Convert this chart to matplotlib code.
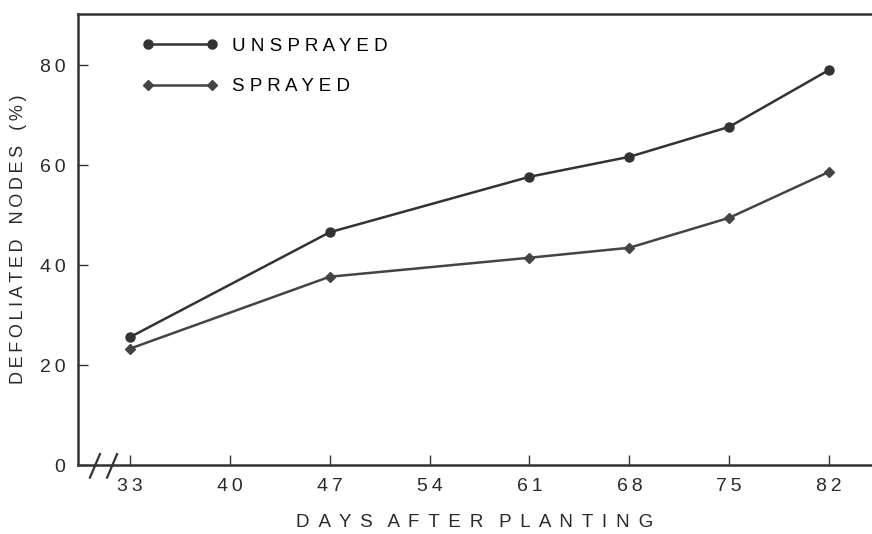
import numpy as np
import matplotlib.pyplot as plt

# defoliation data
days = [33, 47, 61, 68, 75, 82]
unsprayed = [25.6, 46.6, 57.7, 61.7, 67.7, 79.1]
sprayed = [23.3, 37.7, 41.5, 43.5, 49.5, 58.7]
xticks = [33, 40, 47, 54, 61, 68, 75, 82]
yticks = [0, 20, 40, 60, 80]

plt.rcParams['font.family'] = ['Liberation Sans', 'DejaVu Sans']
ink = '#333333'
txt = '#2a2a2a'

def spaced(s, gap=' \u2009'):
    # old typewriter style lettering, wide letter spacing
    return '   '.join(gap.join(w) for w in s.split(' '))

fig = plt.figure(figsize=(8.72, 5.34), dpi=100)
ax = fig.add_axes([0.0894, 0.129, 0.9106, 0.845])

ax.plot(days, unsprayed, color=ink, lw=1.8, marker='o', ms=6.5,
        label=spaced('UNSPRAYED', ' '))
ax.plot(days, sprayed, color='#444444', lw=1.8, marker='D', ms=5.5,
        label=spaced('SPRAYED', ' '))

ax.set_xlim(29.36, 85.0)
ax.set_ylim(0, 90.3)
ax.set_xticks(xticks)
ax.set_xticklabels(['\u2009'.join(str(v)) for v in xticks])
ax.set_yticks(yticks)
ax.set_yticklabels(['\u2009'.join(str(v)) for v in yticks])
ax.tick_params(direction='in', length=7, width=1, color=ink,
               labelsize=14, labelcolor=txt)
ax.tick_params(axis='x', pad=9)
ax.tick_params(axis='y', pad=9)

for s in ['left', 'bottom', 'top']:
    ax.spines[s].set_color(ink)
    ax.spines[s].set_linewidth(1.8)
ax.spines['right'].set_visible(False)

# axis break marks
for x0 in [30.2, 31.4]:
    ax.plot([x0, x0 + 0.7], [-2.5, 2.2], color=ink, lw=1.6, clip_on=False)

ax.set_xlabel(spaced('DAYS AFTER PLANTING'), fontsize=13.5,
              labelpad=14, color=txt)
ax.set_ylabel(spaced('DEFOLIATED NODES (%)', '\u2009'), fontsize=13,
              labelpad=9, color=txt)

ax.legend(loc='upper left', bbox_to_anchor=(0.06, 0.985), frameon=False,
          numpoints=2, handlelength=4.0, handletextpad=0.8,
          labelspacing=1.25, fontsize=13.5)

fig.savefig('out.png', dpi=100)
